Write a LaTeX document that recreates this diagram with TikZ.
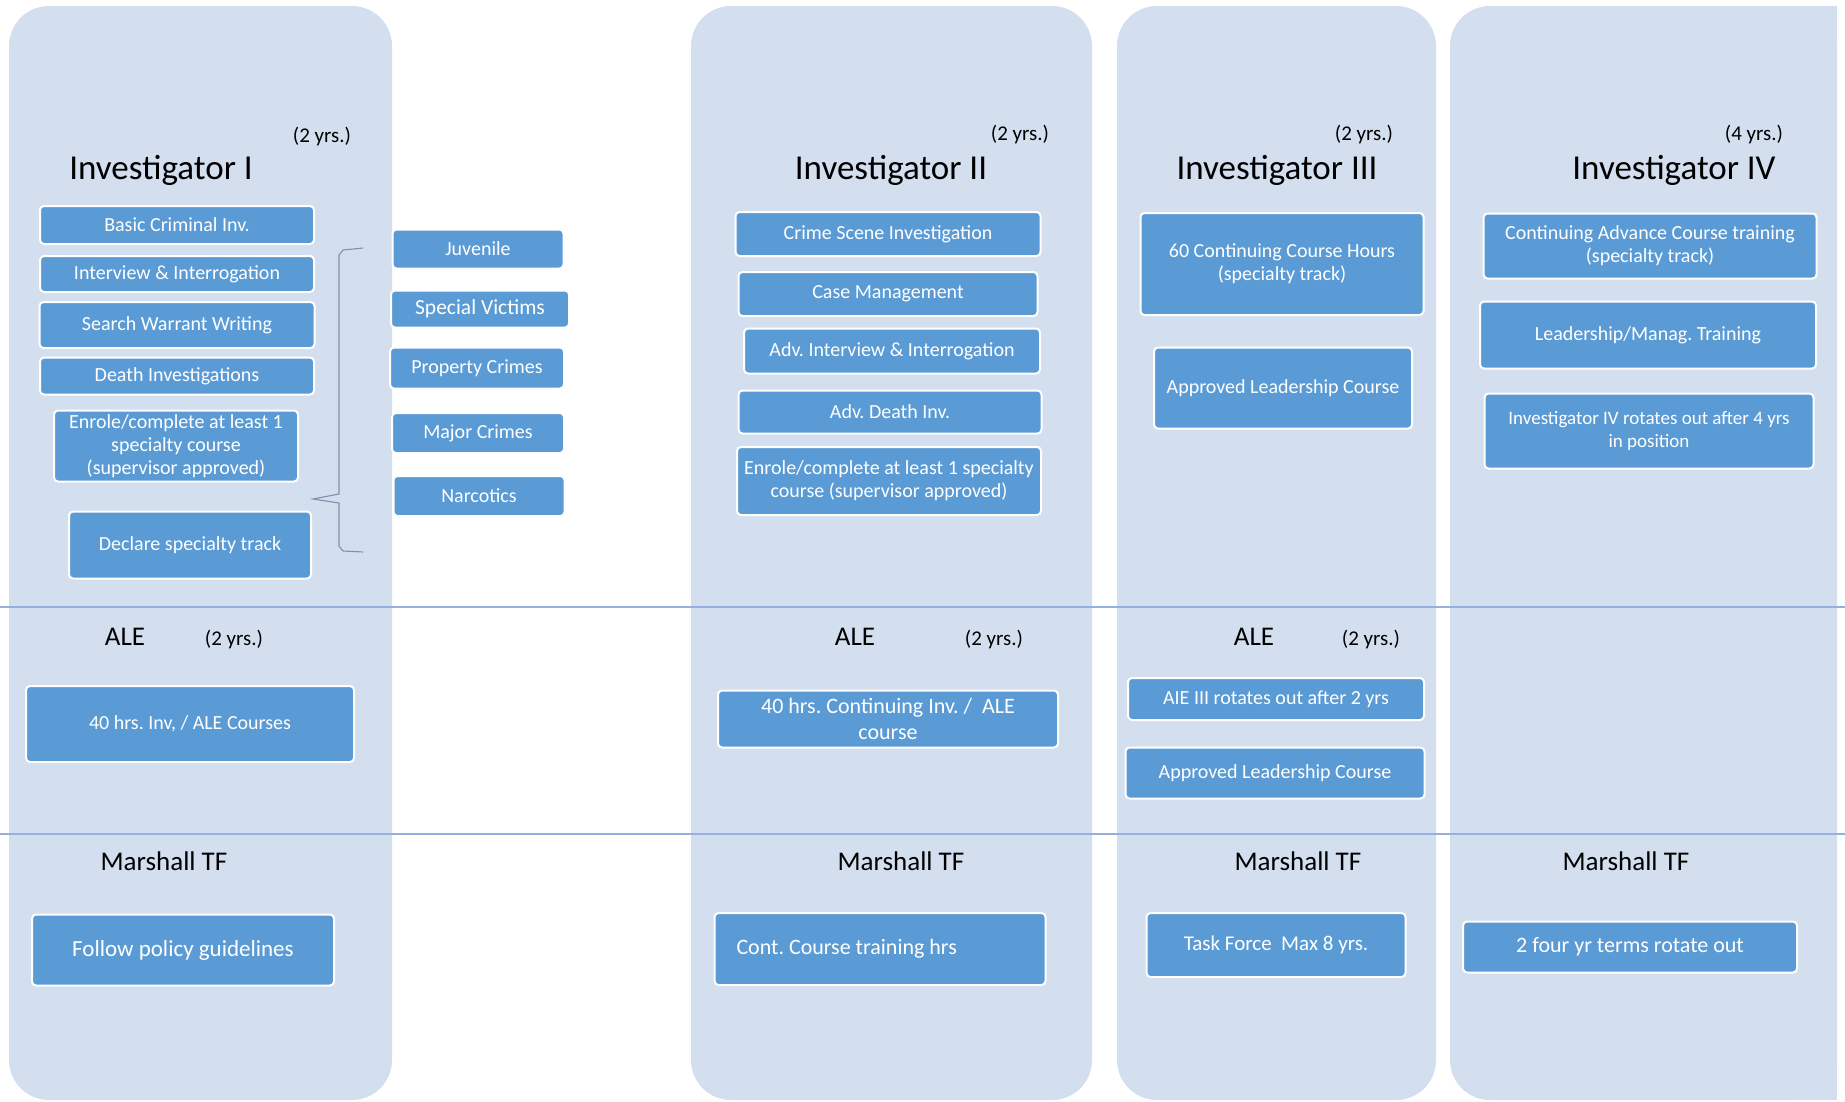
\documentclass[tikz,border=0pt]{standalone}
\usepackage{fontspec}
\setmainfont{Carlito}
\usetikzlibrary{positioning}
\definecolor{lanebg}{RGB}{211,223,239}
\definecolor{coursefill}{RGB}{91,155,213}
\definecolor{ruleblue}{RGB}{150,176,222}
\definecolor{bracegray}{RGB}{125,145,172}
\frenchspacing

\tikzset{
  course/.style={draw=white, line width=2pt, fill=coursefill, rounded corners=4pt,
    text=white, align=center, inner sep=3pt, font=\fontsize{20}{23}\selectfont},
  rank/.style={font=\fontsize{35}{40}\selectfont, anchor=base},
  term/.style={font=\fontsize{21}{25}\selectfont},
  track/.style={font=\fontsize{27}{32}\selectfont},
}

\begin{document}
\begin{tikzpicture}[x=1pt,y=-1pt]
  \useasboundingbox (0,0) rectangle (1845,1101);
  % Lanes (light blue)
  \fill[lanebg, rounded corners=40pt] (9,6) rectangle (392,1100);
  \fill[lanebg, rounded corners=40pt] (691,6) rectangle (1092,1100);
  \fill[lanebg, rounded corners=40pt] (1117,6) rectangle (1436,1100);
  \fill[lanebg, rounded corners=40pt] (1450,6) rectangle (1837,1100);
  \fill[lanebg] (1780,6) rectangle (1837,1100);
  % Row separators
  \draw[ruleblue, line width=1.5pt] (0,607) -- (1845,607);
  \draw[ruleblue, line width=1.5pt] (0,834) -- (1845,834);

  % Investigator I
  \node[rank] (inv1) at (161,179) {Investigator I};
  \node[term] (inv1yrs) at (322,137) {(2 yrs.)};
  \node[course, minimum width=274pt, minimum height=38pt] (basic) at (177,225) {Basic Criminal Inv.};
  \node[course, minimum width=274pt, minimum height=36pt] (interview) at (177,274) {Interview \& Interrogation};
  \node[course, minimum width=275pt, minimum height=46pt] (warrant) at (177,325) {Search Warrant Writing};
  \node[course, minimum width=274pt, minimum height=37pt] (death) at (177,376) {Death Investigations};
  \node[course, minimum width=244pt, minimum height=71pt] (enrole1) at (176,446)
        {Enrole/complete at least 1\\specialty course\\(supervisor approved)};
  \node[course, minimum width=242pt, minimum height=67pt] (declare) at (190,545) {Declare specialty track};
  % Specialty tracks
  \node[course, minimum width=171pt, minimum height=39pt] (juvenile) at (478,249) {Juvenile};
  \node[course, minimum width=178pt, minimum height=37pt, font=\fontsize{21.5}{25}\selectfont] (victims) at (480,309) {Special Victims};
  \node[course, minimum width=174pt, minimum height=41pt] (property) at (477,368) {Property Crimes};
  \node[course, minimum width=172pt, minimum height=40pt] (major) at (478,433) {Major Crimes};
  \node[course, minimum width=171pt, minimum height=40pt] (narcotics) at (479,496) {Narcotics};
  % Bracket
  \coordinate (brtop) at (363,248);
  \coordinate (brtip) at (313,499);
  \coordinate (brbot) at (363,552);
  \draw[bracegray, line width=1.1pt] (brtop) -- (343,250) -- (339,255) -- (339,494)
        -- (brtip) -- (339,503) -- (339,546) -- (343,551) -- (brbot);

  % ALE / Marshall TF (I)
  \node[track] (ale1) at (125,637) {ALE};
  \node[term] (ale1yrs) at (234,640) {(2 yrs.)};
  \node[course, minimum width=328pt, minimum height=76pt] (alecourse1) at (190,724) {40 hrs. Inv, / ALE Courses};
  \node[track] (tf1) at (164,861) {Marshall TF};
  \node[course, minimum width=302pt, minimum height=71pt, font=\fontsize{23}{27}\selectfont] (policy) at (183,950) {Follow policy guidelines};

  % Investigator II
  \node[rank] (inv2) at (891,179) {Investigator II};
  \node[term] (inv2yrs) at (1020,135) {(2 yrs.)};
  \node[course, minimum width=305pt, minimum height=44pt] (scene) at (888,234) {Crime Scene Investigation};
  \node[course, minimum width=299pt, minimum height=44pt] (casemgmt) at (888,294) {Case Management};
  \node[course, minimum width=296pt, minimum height=45pt] (advinterview) at (892,351) {Adv. Interview \& Interrogation};
  \node[course, minimum width=303pt, minimum height=43pt] (advdeath) at (890,412) {Adv. Death Inv.};
  \node[course, minimum width=304pt, minimum height=68pt] (enrole2) at (889,481)
        {Enrole/complete at least 1 specialty\\course (supervisor approved)};
  \node[track] (ale2) at (855,637) {ALE};
  \node[term] (ale2yrs) at (994,640) {(2 yrs.)};
  \node[course, minimum width=340pt, minimum height=57pt, font=\fontsize{22}{26}\selectfont] (alecourse2) at (888,719)
        {40 hrs. Continuing Inv. /\ \ ALE\\course};
  \node[track] (tf2) at (901,861) {Marshall TF};
  \node[course, minimum height=72pt, text width=287pt, inner xsep=22pt, align=flush left,
        font=\fontsize{22}{26}\selectfont] (conttraining) at (880,949) {Cont. Course training hrs};

  % Investigator III
  \node[rank] (inv3) at (1277,179) {Investigator III};
  \node[term] (inv3yrs) at (1364,135) {(2 yrs.)};
  \node[course, minimum width=283pt, minimum height=102pt] (sixty) at (1282,264)
        {60 Continuing Course Hours\\(specialty track)};
  \node[course, minimum width=258pt, minimum height=81pt] (leader3) at (1283,388) {Approved Leadership Course};
  \node[track] (ale3) at (1254,637) {ALE};
  \node[term] (ale3yrs) at (1371,640) {(2 yrs.)};
  \node[course, minimum width=296pt, minimum height=42pt] (rotate3) at (1276,699) {AIE III rotates out after 2 yrs};
  \node[course, minimum width=299pt, minimum height=51pt] (leaderale) at (1275,773) {Approved Leadership Course};
  \node[track] (tf3) at (1298,861) {Marshall TF};
  \node[course, minimum width=259pt, minimum height=64pt, font=\fontsize{21}{25}\selectfont] (taskforce) at (1276,945)
        {Task Force\ \ Max 8 yrs.};

  % Investigator IV
  \node[rank] (inv4) at (1674,179) {Investigator IV};
  \node[term] (inv4yrs) at (1754,135) {(4 yrs.)};
  \node[course, minimum width=333pt, minimum height=65pt] (advance) at (1650,246)
        {Continuing Advance Course training\\(specialty track)};
  \node[course, minimum width=336pt, minimum height=67pt] (manag) at (1648,335) {Leadership/Manag. Training};
  \node[course, minimum width=329pt, minimum height=75pt, font=\fontsize{19}{23}\selectfont] (rotate4) at (1649,431)
        {Investigator IV rotates out after 4 yrs\\in position};
  \node[track] (tf4) at (1626,861) {Marshall TF};
  \node[course, minimum width=334pt, minimum height=51pt, font=\fontsize{22}{26}\selectfont] (terms) at (1630,947)
        {2 four yr terms rotate out};
\end{tikzpicture}
\end{document}
